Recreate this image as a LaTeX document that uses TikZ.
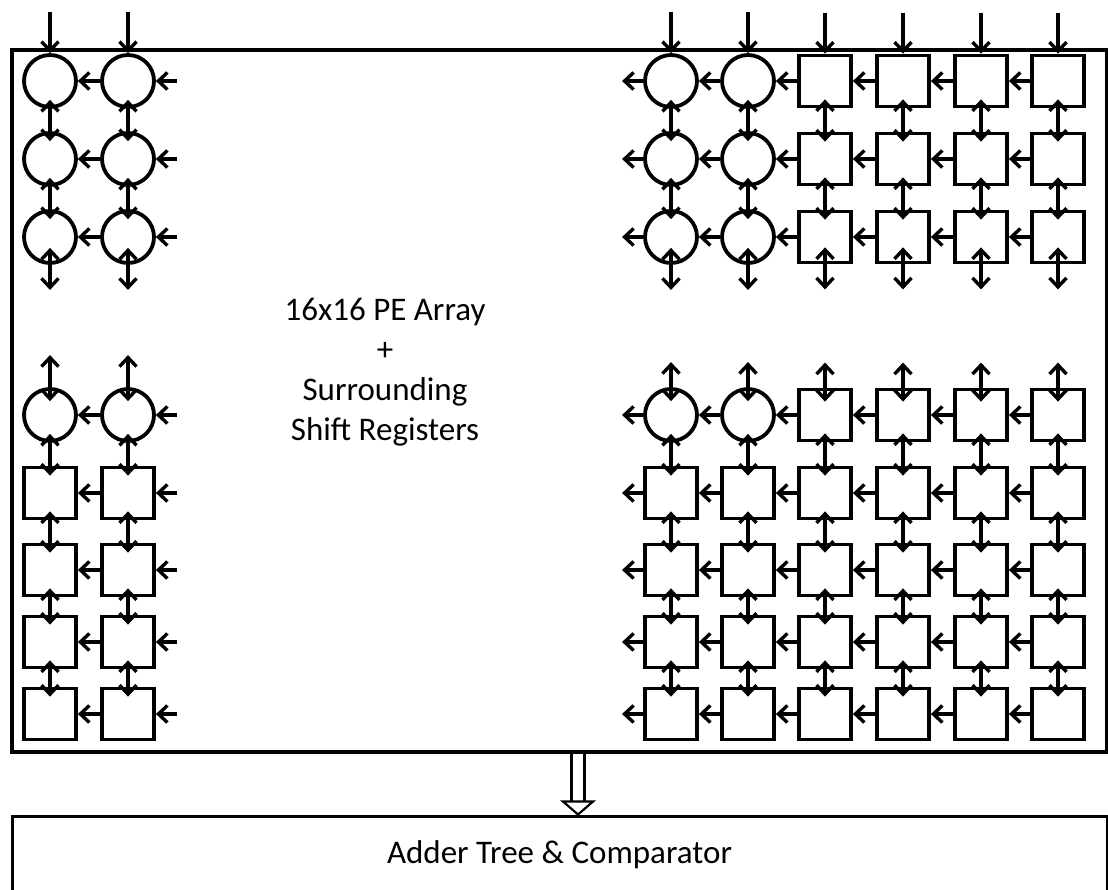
\documentclass[tikz,border=0pt]{standalone}
\usepackage{fontspec}
\setmainfont{Carlito}
\usetikzlibrary{arrows.meta}

\tikzset{
  pe/.style={draw,circle,line width=3.8pt,minimum size=52pt,inner sep=0pt},
  reg/.style={draw,rectangle,line width=3.8pt,minimum width=52pt,minimum height=51pt,inner sep=0pt},
  link/.style={line width=3.4pt,-{Straight Barb[length=9pt,width=17pt]}},
  bilink/.style={line width=3.4pt,{Straight Barb[length=9pt,width=17pt]}-{Straight Barb[length=9pt,width=17pt]}},
}

\begin{document}
\begin{tikzpicture}[x=1pt,y=-1pt]
  \useasboundingbox (0,0) rectangle (1108,890);
  % outer boxes
  \node[draw,line width=3.5pt,minimum width=1095pt,minimum height=702pt,inner sep=0pt] (arraybox) at (559.5,401) {};
  \node[draw,line width=3pt,minimum width=1095pt,minimum height=78pt,inner sep=0pt,
        font=\fontsize{33}{36}\selectfont] (adder) at (559.5,855) {Adder Tree \& Comparator};
  \node[align=center,font=\fontsize{33}{40}\selectfont] (title) at (385,372)
    {16x16 PE Array\\+\\Surrounding\\Shift Registers};
  % wide link into the adder tree
  \coordinate (flowtop) at ([xshift=18.5pt]arraybox.south);
  \coordinate (flowtip) at ([xshift=18.5pt]adder.north);
  \draw[line width=2.2pt] ([xshift=-6.5pt]flowtop) -- ([xshift=-6.5pt,yshift=13pt]flowtip);
  \draw[line width=2.2pt] ([xshift=6.5pt]flowtop) -- ([xshift=6.5pt,yshift=13pt]flowtip);
  \draw[line width=2.2pt,line join=miter] ([xshift=-15pt,yshift=13pt]flowtip) -- (flowtip)
    -- ([xshift=15pt,yshift=13pt]flowtip) -- cycle;

  % top left corner: 3x2 PEs
  \foreach \c/\x in {1/50,2/128}{
    \foreach \r/\y in {1/81,2/159,3/237}
      \node[pe] (tl\r\c) at (\x,\y) {};
    \draw[link] ([yshift=41pt]tl1\c.north) -- (tl1\c.north);
    \draw[bilink] ([yshift=9pt]tl1\c.south) -- ([yshift=-10pt]tl2\c.north);
    \draw[bilink] ([yshift=9pt]tl2\c.south) -- ([yshift=-10pt]tl3\c.north);
    \draw[bilink] ([yshift=17pt]tl3\c.south) -- ([yshift=-25pt]tl3\c.south);
  }
  \foreach \r in {1,2,3}{
    \draw[link] (tl\r2.west) -- (tl\r1.east);
    \draw[link] ([xshift=21pt]tl\r2.east) -- (tl\r2.east);
  }

  % top right corner: 3x6, PEs and shift registers
  \foreach \c/\x/\s in {1/671/pe,2/748/pe,3/825/reg,4/903/reg,5/981/reg,6/1058/reg}{
    \foreach \r/\y in {1/81,2/159,3/237}
      \node[\s] (tr\r\c) at (\x,\y) {};
    \draw[link] ([yshift=41pt]tr1\c.north) -- (tr1\c.north);
    \draw[bilink] ([yshift=9pt]tr1\c.south) -- ([yshift=-10pt]tr2\c.north);
    \draw[bilink] ([yshift=9pt]tr2\c.south) -- ([yshift=-10pt]tr3\c.north);
    \draw[bilink] ([yshift=17pt]tr3\c.south) -- ([yshift=-25pt]tr3\c.south);
  }
  \foreach \r in {1,2,3}{
    \foreach \p/\c in {1/2,2/3,3/4,4/5,5/6}
      \draw[link] (tr\r\c.west) -- (tr\r\p.east);
    \draw[link] (tr\r1.west) -- ([xshift=-21pt]tr\r1.west);
  }

  % bottom left corner: 5x2
  \foreach \c/\x in {1/50,2/128}{
    \node[pe] (bl1\c) at (\x,415) {};
    \foreach \r/\y in {2/493,3/570,4/642,5/714}
      \node[reg] (bl\r\c) at (\x,\y) {};
    \draw[bilink] ([yshift=32pt]bl1\c.north) -- ([yshift=-14pt]bl1\c.north);
    \foreach \p/\r in {1/2,2/3,3/4,4/5}
      \draw[bilink] ([yshift=9pt]bl\p\c.south) -- ([yshift=-10pt]bl\r\c.north);
  }
  \foreach \r in {1,...,5}{
    \draw[link] (bl\r2.west) -- (bl\r1.east);
    \draw[link] ([xshift=21pt]bl\r2.east) -- (bl\r2.east);
  }

  % bottom right corner: 5x6
  \foreach \c/\x/\s in {1/671/pe,2/748/pe,3/825/reg,4/903/reg,5/981/reg,6/1058/reg}{
    \node[\s] (br1\c) at (\x,415) {};
    \foreach \r/\y in {2/493,3/570,4/642,5/714}
      \node[reg] (br\r\c) at (\x,\y) {};
    \draw[bilink] ([yshift=25pt]br1\c.north) -- ([yshift=-14pt]br1\c.north);
    \foreach \p/\r in {1/2,2/3,3/4,4/5}
      \draw[bilink] ([yshift=9pt]br\p\c.south) -- ([yshift=-10pt]br\r\c.north);
  }
  \foreach \r in {1,...,5}{
    \foreach \p/\c in {1/2,2/3,3/4,4/5,5/6}
      \draw[link] (br\r\c.west) -- (br\r\p.east);
    \draw[link] (br\r1.west) -- ([xshift=-21pt]br\r1.west);
  }
\end{tikzpicture}
\end{document}
